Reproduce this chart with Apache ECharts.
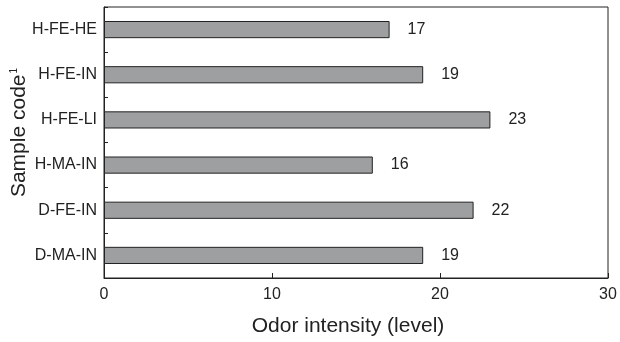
<!DOCTYPE html>
<html>
<head>
<meta charset="utf-8">
<script src="https://cdn.jsdelivr.net/npm/echarts@6/dist/echarts.min.js"></script>
<style>html,body{margin:0;padding:0;background:#fff}#c{width:620px;height:342px}</style>
</head>
<body>
<div id="c"></div>
<script>
var categories = ['H-FE-HE', 'H-FE-IN', 'H-FE-LI', 'H-MA-IN', 'D-FE-IN', 'D-MA-IN'];
var values = [17, 19, 23, 16, 22, 19];
var xTicks = [0, 10, 20, 30];

var chart = echarts.init(document.getElementById('c'), null, {renderer: 'canvas'});
var font = 'Liberation Sans, Arial, sans-serif';
var ink = '#222';
chart.setOption({
  animation: false,
  backgroundColor: '#fff',
  grid: {left: 104, right: 12, top: 7, bottom: 64, containLabel: false, outerBoundsMode: 'none', show: true, borderColor: ink, borderWidth: 1, backgroundColor: 'transparent'},
  xAxis: {
    type: 'value', min: xTicks[0], max: xTicks[xTicks.length - 1], interval: 10,
    name: 'Odor intensity (level)', nameLocation: 'middle', nameGap: 38, nameMoveOverlap: false,
    nameTextStyle: {fontFamily: font, fontSize: 21, color: ink, padding: [0, 16, 0, 0]},
    axisLine: {show: true, lineStyle: {color: ink, width: 1}},
    axisTick: {show: true, inside: true, length: 5, lineStyle: {color: ink}},
    axisLabel: {fontFamily: font, fontSize: 16, color: ink, margin: 9},
    splitLine: {show: false}
  },
  yAxis: {
    type: 'category', data: categories, inverse: true,
    name: '{a|Sample code}{s|1}', nameLocation: 'middle', nameGap: 74, nameMoveOverlap: false,
    nameTextStyle: {
      padding: [0, 0, 0, 20],
      rich: {
        a: {fontFamily: font, fontSize: 21, color: ink},
        s: {fontFamily: font, fontSize: 10, color: ink, verticalAlign: 'top', padding: [0, 0, 10, 1]}
      }
    },
    axisLine: {show: true, lineStyle: {color: ink, width: 1}},
    axisTick: {show: true, inside: true, length: 4, lineStyle: {color: ink}},
    axisLabel: {fontFamily: font, fontSize: 16, color: ink, margin: 7}
  },
  series: [{
    type: 'bar', data: values, barWidth: '38%',
    itemStyle: {color: '#9e9fa1', borderColor: ink, borderWidth: 1},
    label: {show: true, position: 'right', distance: 18, fontFamily: font, fontSize: 16, color: ink}
  }]
});
</script>
</body>
</html>
